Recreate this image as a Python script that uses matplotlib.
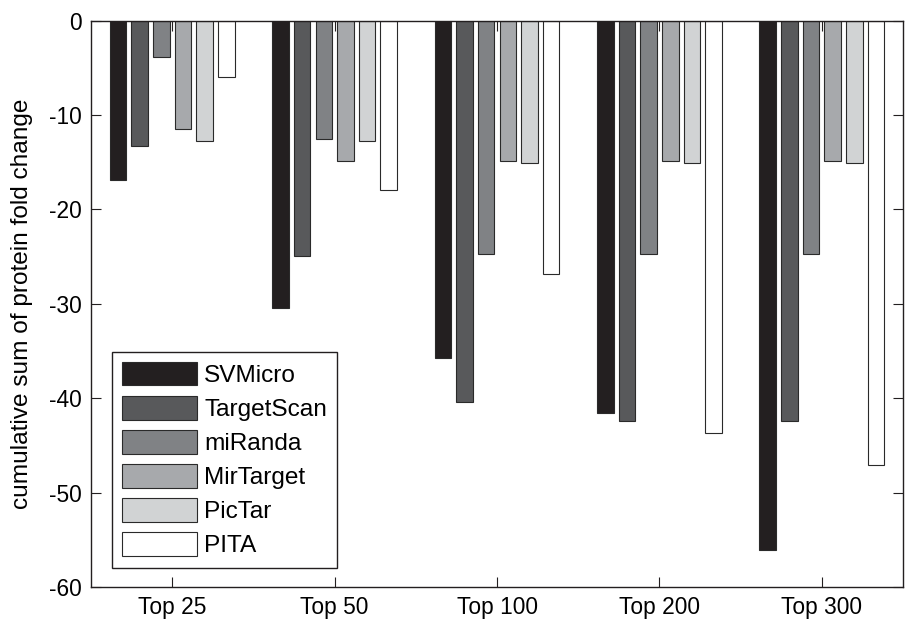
import numpy as np
import matplotlib
matplotlib.use("Agg")
import matplotlib.pyplot as plt

plt.rcParams['font.family'] = ['Liberation Sans', 'DejaVu Sans']
plt.rcParams['axes.unicode_minus'] = False

# groups and methods
groups = ['Top 25', 'Top 50', 'Top 100', 'Top 200', 'Top 300']
methods = ['SVMicro', 'TargetScan', 'miRanda', 'MirTarget', 'PicTar', 'PITA']

# cumulative sum of protein fold change per method
svmicro = [-16.9, -30.4, -35.7, -41.6, -56.1]
targetscan = [-13.3, -24.9, -40.4, -42.4, -42.4]
miranda = [-3.8, -12.5, -24.7, -24.7, -24.7]
mirtarget = [-11.5, -14.9, -14.9, -14.9, -14.9]
pictar = [-12.7, -12.7, -15.1, -15.1, -15.1]
pita = [-6.0, -17.9, -26.8, -43.7, -47.1]

series = [svmicro, targetscan, miranda, mirtarget, pictar, pita]
colors = ['#231f20', '#58595b', '#808285', '#a7a9ac', '#d1d3d4', '#ffffff']

fig = plt.figure(figsize=(9.05, 6.3), dpi=100)
ax = fig.add_axes([0.1006, 0.0683, 0.8972, 0.8989])

x = np.arange(1, len(groups) + 1)
step = 0.8 / len(methods)
width = 0.102
for i, (vals, name, c) in enumerate(zip(series, methods, colors)):
    ax.bar(x + (i - 2.5) * step, vals, width, color=c, edgecolor='#2a2a2a',
           linewidth=0.8, label=name, zorder=2)

ax.set_xlim(0.5, 5.5)
ax.set_ylim(-60, 0)
ax.set_xticks(x)
ax.set_xticklabels(groups)
ax.set_yticks(np.arange(-60, 1, 10))
ax.tick_params(direction='in', length=7, width=0.8, labelsize=16.4,
               top=True, right=True, color='#231f20', pad=6.5)
for s in ax.spines.values():
    s.set_linewidth(1.0)
    s.set_color('#231f20')
    s.set_zorder(3)

ax.set_ylabel('cumulative sum of protein fold change', fontsize=17.6)
ax.yaxis.set_label_coords(-0.0714, 0.5)

leg = ax.legend(loc='lower left', bbox_to_anchor=(0.026, 0.034), borderaxespad=0,
                fancybox=False, edgecolor='#231f20', fontsize=17.6,
                handlelength=3.05, handleheight=1.1, labelspacing=0.37,
                handletextpad=0.3, borderpad=0.42)
leg.get_frame().set_linewidth(1.0)
leg.get_frame().set_alpha(1)

fig.savefig('out.png', dpi=100)
